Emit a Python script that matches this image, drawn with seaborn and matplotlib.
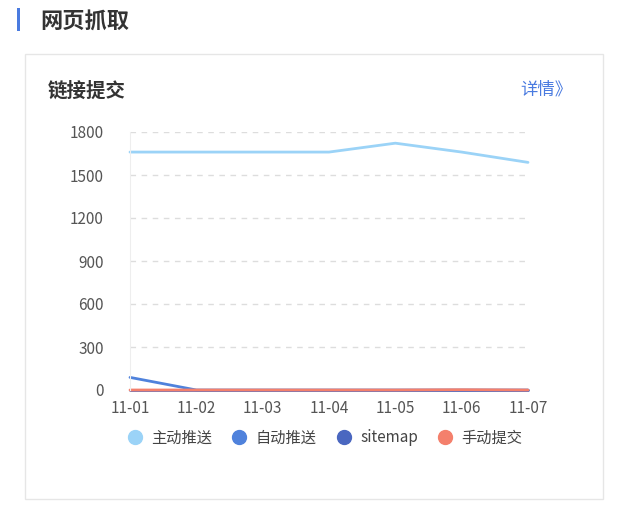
import seaborn as sns
import matplotlib
matplotlib.use("Agg")
import matplotlib.pyplot as plt
import pandas as pd
from matplotlib.patches import Rectangle
from matplotlib.lines import Line2D

# data
dates = ["11-01", "11-02", "11-03", "11-04", "11-05", "11-06", "11-07"]
zhudong = [1660, 1660, 1660, 1660, 1722, 1660, 1588]
zidong = [88, 0, 0, 0, 0, 0, 0]
sitemap = [0, 0, 0, 0, 0, 0, 0]
shoudong = [0, 0, 0, 0, 0, 2, 0]
series_names = ["主动推送", "自动推送", "sitemap", "手动提交"]
colors = ["#9bd3f7", "#4f82dc", "#4a67c0", "#f4806c"]
y_ticks = [0, 300, 600, 900, 1200, 1500, 1800]

df = pd.DataFrame({"date": dates, "主动推送": zhudong, "自动推送": zidong,
                   "sitemap": sitemap, "手动提交": shoudong})
long = df.melt(id_vars="date", var_name="series", value_name="value")
long["x"] = long["date"].map({d: i for i, d in enumerate(dates)})

sns.set_style("white")
plt.rcParams["font.family"] = ["Noto Sans CJK SC", "DejaVu Sans"]

fig = plt.figure(figsize=(6.27, 5.12), dpi=100)
W, H = 627, 512

# page header + card
fig.patches.append(Rectangle((17 / W, 1 - 31 / H), 3 / W, 23 / H, transform=fig.transFigure,
                             facecolor="#4a7be0", edgecolor="none", zorder=-10))
fig.text(40 / W, 1 - 21 / H, "网页抓取", fontsize=16, fontweight="bold", color="#333333", va="center")
fig.patches.append(Rectangle((25 / W, 1 - 499 / H), 578 / W, 445 / H, transform=fig.transFigure,
                             facecolor="white", edgecolor="#e6e6e6", lw=1, zorder=-10))
fig.text(48 / W, 1 - 91 / H, "链接提交", fontsize=14, fontweight="bold", color="#333333", va="center")
fig.text(520 / W, 1 - 90 / H, "详情》", fontsize=12.5, color="#4a7be0", va="center", ha="left")

ax = fig.add_axes([130 / W, 1 - 390 / H, 398 / W, 258 / H])
ax.patch.set_alpha(0)
sns.lineplot(data=long, x="x", y="value", hue="series", hue_order=series_names,
             palette=colors, linewidth=2, ax=ax, legend=False, clip_on=False)

ax.set_xlim(0, len(dates) - 1)
ax.set_ylim(0, 1800)
ax.set_xticks(range(len(dates)))
ax.set_xticklabels(dates)
ax.set_yticks(y_ticks)
ax.set_xlabel("")
ax.set_ylabel("")
ax.tick_params(axis="both", length=0, labelsize=11, labelcolor="#555555")
ax.tick_params(axis="y", pad=19)
ax.tick_params(axis="x", pad=7)
for s in ["top", "right", "bottom"]:
    ax.spines[s].set_visible(False)
ax.spines["left"].set_color("#eeeeee")
ax.yaxis.grid(True, linestyle=(0, (4, 4)), color="#dddddd", lw=1)
for gl in ax.yaxis.get_gridlines()[:1]:
    gl.set_visible(False)

handles = [Line2D([], [], marker="o", linestyle="none", markersize=10, color=c) for c in colors]
fig.legend(handles, series_names, loc="center", bbox_to_anchor=(321 / W, 1 - 438 / H), ncol=4,
           frameon=False, fontsize=11, handletextpad=0.1, columnspacing=0.75,
           labelcolor="#444444")

plt.savefig("out.png", dpi=100)
plt.close()
